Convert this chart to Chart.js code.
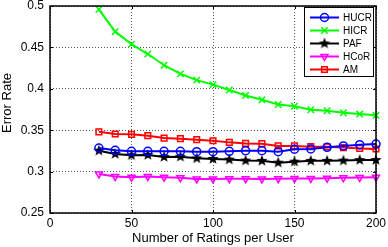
<!DOCTYPE html>
<html>
<head>
<meta charset="utf-8">
<script src="https://cdn.jsdelivr.net/npm/chart.js@4"></script>
<style>
  html, body { margin: 0; padding: 0; background: #fff; }
  #wrap { width: 388px; height: 247px; }
</style>
</head>
<body>
<div id="wrap"><canvas id="myChart" width="388" height="247"></canvas></div>
<script>
// data
var ratings = [30, 40, 50, 60, 70, 80, 90, 100, 110, 120, 130, 140, 150, 160, 170, 180, 190, 200];
var hucr = [0.3285, 0.3257, 0.3245, 0.3245, 0.3245, 0.3245, 0.324, 0.324, 0.3245, 0.3253, 0.3253, 0.324, 0.327, 0.3273, 0.3293, 0.331, 0.3325, 0.3333];
var hicr = [0.496, 0.469, 0.454, 0.442, 0.4285, 0.418, 0.4105, 0.405, 0.3985, 0.392, 0.3867, 0.381, 0.379, 0.3747, 0.3735, 0.371, 0.3695, 0.368];
var paf  = [0.3253, 0.3213, 0.3197, 0.320, 0.3177, 0.318, 0.316, 0.3153, 0.3145, 0.3133, 0.313, 0.3108, 0.312, 0.313, 0.313, 0.3133, 0.314, 0.314];
var hcor = [0.2972, 0.294, 0.2932, 0.294, 0.2932, 0.2925, 0.2912, 0.2912, 0.2915, 0.2915, 0.2912, 0.2915, 0.2918, 0.2918, 0.292, 0.2925, 0.2928, 0.2932];
var am   = [0.348, 0.3454, 0.345, 0.3434, 0.3405, 0.3398, 0.3386, 0.3373, 0.3353, 0.334, 0.3337, 0.331, 0.331, 0.3301, 0.330, 0.329, 0.328, 0.3273];

var xTicks = [0, 50, 100, 150, 200];
var yTicks = [0.25, 0.3, 0.35, 0.4, 0.45, 0.5];
var yTickLabels = ['0.25', '0.3', '0.35', '0.4', '0.45', '0.5'];
var yTitle = 'Error Rate';

// filled pentagram marker (matlab 'p')
function makeStar(r, color){
    var c = document.createElement('canvas');
    c.width = r*2+2; c.height = r*2+2;
    var g = c.getContext('2d');
    g.fillStyle = color;
    g.beginPath();
    for(var i = 0; i < 10; i++){
        var rad = (i % 2 == 0) ? r : r*0.42;
        var a = -Math.PI/2 + i*Math.PI/5;
        var px = r+1 + rad*Math.cos(a), py = r+1 + rad*Math.sin(a);
        if(i == 0) g.moveTo(px, py); else g.lineTo(px, py);
    }
    g.closePath();
    g.fill();
    return c;
}
var starImg = makeStar(6, '#000');

function serie(label, data, color, style, extra){
    var d = {
        label: label,
        data: data.map(function(v, i){ return {x: ratings[i], y: v}; }),
        borderColor: color,
        backgroundColor: 'rgba(0,0,0,0)',
        borderWidth: 2,
        pointStyle: style,
        pointRadius: 4,
        pointBorderColor: color,
        pointBackgroundColor: 'rgba(0,0,0,0)',
        pointBorderWidth: 1.5,
        tension: 0,
        clip: false
    };
    for(var k in extra) d[k] = extra[k];
    return d;
}

var datasets = [
    serie('HUCR', hucr, '#0000ff', 'circle', {}),
    serie('HICR', hicr, '#00ff00', 'crossRot', {pointRadius: 4.5}),
    serie('PAF', paf, '#000000', starImg, {}),
    serie('HCoR', hcor, '#ff00ff', 'triangle', {pointRotation: 180}),
    serie('AM', am, '#ff0000', 'rect', {pointRadius: 4})
];

// box, inner ticks, y title and legend like matlab
var boxPlugin = {
    id: 'boxPlugin',
    afterDraw: function(chart){
        var ctx = chart.ctx;
        var a = chart.chartArea;
        var xs = chart.scales.x, ys = chart.scales.y;
        ctx.save();
        ctx.strokeStyle = '#000';
        ctx.lineWidth = 1;
        ctx.beginPath();
        for(var i = 0; i < xTicks.length; i++){
            var px = Math.round(xs.getPixelForValue(xTicks[i])) + 0.5;
            ctx.moveTo(px, a.bottom); ctx.lineTo(px, a.bottom - 3);
            ctx.moveTo(px, a.top); ctx.lineTo(px, a.top + 3);
        }
        for(var j = 0; j < yTicks.length; j++){
            var py = Math.round(ys.getPixelForValue(yTicks[j])) + 0.5;
            ctx.moveTo(a.left, py); ctx.lineTo(a.left + 3, py);
            ctx.moveTo(a.right, py); ctx.lineTo(a.right - 3, py);
        }
        ctx.stroke();
        ctx.lineWidth = 1.5;
        ctx.strokeRect(a.left, a.top, a.right - a.left, a.bottom - a.top);

        // y title (matlab puts it a bit above the axis centre)
        ctx.save();
        ctx.translate(7.5, 103);
        ctx.rotate(-Math.PI/2);
        ctx.font = '13px "Liberation Sans", Arial, sans-serif';
        ctx.fillStyle = '#000';
        ctx.textAlign = 'center';
        ctx.textBaseline = 'middle';
        ctx.fillText(yTitle, 0, 0);
        ctx.restore();

        // legend
        var lx = 304.5, ly = 7.5, lw = 69, lh = 69;
        ctx.fillStyle = '#fff';
        ctx.fillRect(lx, ly, lw, lh);
        ctx.lineWidth = 1;
        ctx.strokeRect(lx, ly, lw, lh);
        ctx.font = '10px "Liberation Sans", Arial, sans-serif';
        ctx.textBaseline = 'middle';
        chart.data.datasets.forEach(function(ds, i){
            var y = 17.5 + i*13;
            ctx.strokeStyle = ds.borderColor;
            ctx.lineWidth = 2;
            ctx.beginPath();
            ctx.moveTo(310, y); ctx.lineTo(339, y);
            ctx.stroke();
            ctx.lineWidth = ds.pointBorderWidth;
            ctx.fillStyle = 'rgba(0,0,0,0)';
            Chart.helpers.drawPoint(ctx, {
                pointStyle: ds.pointStyle,
                radius: ds.pointRadius,
                rotation: ds.pointRotation || 0,
                borderWidth: ds.pointBorderWidth
            }, 324.5, y);
            ctx.fillStyle = '#000';
            ctx.fillText(ds.label, 343, y + 0.5);
        });
        ctx.restore();
    }
};

var ctx = document.getElementById('myChart').getContext('2d');
var myChart = new Chart(ctx, {
    type: 'line',
    data: { datasets: datasets },
    options: {
        responsive: false,
        animation: false,
        layout: { padding: { left: 0, top: 5, right: 12, bottom: 0 } },
        plugins: {
            legend: { display: false },
            tooltip: { enabled: false }
        },
        scales: {
            x: {
                type: 'linear',
                min: 0, max: 200,
                afterBuildTicks: function(scale){
                    scale.ticks = xTicks.map(function(v){ return {value: v}; });
                },
                afterFit: function(scale){
                    scale.height = 34;
                    scale.paddingLeft = 0; scale.paddingRight = 0;
                },
                grid: { color: '#555', lineWidth: 1, drawTicks: false },
                border: { display: false, dash: [1, 2] },
                ticks: {
                    padding: 3, maxRotation: 0, color: '#000',
                    font: { family: '"Liberation Sans", Arial, sans-serif', size: 12 }
                },
                title: {
                    display: true, text: 'Number of Ratings per User', color: '#000',
                    padding: { top: 0, bottom: 1 },
                    font: { family: '"Liberation Sans", Arial, sans-serif', size: 13 }
                }
            },
            y: {
                min: 0.25, max: 0.5,
                afterBuildTicks: function(scale){
                    scale.ticks = yTicks.map(function(v){ return {value: v}; });
                },
                afterFit: function(scale){
                    scale.width = 50;
                    scale.paddingTop = 0; scale.paddingBottom = 0;
                },
                grid: { color: '#555', lineWidth: 1, drawTicks: false },
                border: { display: false, dash: [1, 2] },
                ticks: {
                    padding: 6, color: '#000',
                    font: { family: '"Liberation Sans", Arial, sans-serif', size: 12 },
                    callback: function(v, i){ return yTickLabels[i]; }
                }
            }
        }
    },
    plugins: [boxPlugin]
});
</script>
</body>
</html>
